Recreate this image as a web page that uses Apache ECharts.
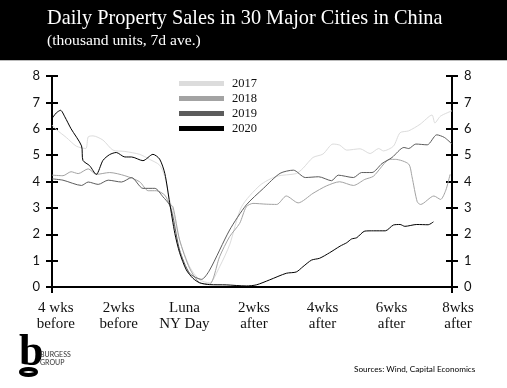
<!DOCTYPE html>
<html>
<head>
<meta charset="utf-8">
<script src="https://cdn.jsdelivr.net/npm/echarts@6/dist/echarts.min.js"></script>
<style>
  html, body { margin: 0; padding: 0; background: #fff; }
  #chart { width: 507px; height: 388px; }
</style>
</head>
<body>
<div id="chart"></div>
<script>
const days2017 = [-28, -27.1, -25, -22.9, -20.9, -20.4, -19.4, -17.3, -15.2, -12.7, -9.6, -7.5, -5.4, -4.3, -3.3, -2.6, -1.2, 0.9, 3, 5.1, 7.2, 9.3, 11.8, 15.7, 19.2, 23.3, 24.7, 26.8, 28.9, 31, 32.4, 33.9, 36.7, 38.8, 40.6, 41.6, 43.7, 45.1, 46.9, 49.3, 51.8, 52.4, 53.6, 56];
const sales2017 = [6.14, 5.97, 5.67, 5.34, 5.25, 5.69, 5.73, 5.57, 5.19, 5.14, 5.03, 4.84, 4.62, 4.18, 3.3, 2.9, 1.78, 0.77, 0.27, 0.16, 0.77, 1.6, 3.04, 3.86, 4.2, 4.3, 4.5, 4.91, 5.04, 5.42, 5.38, 5.19, 5.24, 5.06, 5.25, 5.16, 5.34, 5.85, 5.92, 6.17, 6.52, 6.22, 6.48, 6.68];

const days2018 = [-28, -25.7, -24, -22.5, -20.4, -18.7, -15.9, -12.7, -9.6, -7.8, -6.1, -4.3, -3.3, -2.6, -1.2, 0.9, 3, 5.1, 7.2, 9.3, 11.4, 12.8, 14.2, 17, 19.2, 21.2, 23.7, 26.8, 29.6, 32.4, 35.3, 37.7, 39.5, 43, 44.1, 46.9, 47.6, 48.7, 49.4, 52.2, 53.6, 54.7, 55.6];
const sales2018 = [4.24, 4.22, 4.37, 4.3, 4.48, 4.27, 4.34, 4.22, 3.99, 3.65, 3.65, 3.48, 3.14, 3.04, 1.78, 0.71, 0.16, 0.11, 1.15, 1.91, 2.41, 3.04, 3.17, 3.14, 3.13, 3.45, 3.19, 3.55, 3.83, 3.99, 3.85, 4.08, 4.2, 4.84, 4.84, 4.66, 4.18, 3.23, 3.13, 3.45, 3.32, 3.67, 4.27];

const days2019 = [-28, -25.7, -21.8, -20.4, -18.3, -16.2, -13.4, -11.3, -8.9, -6.4, -4.7, -3.3, -2.6, -1.2, 0.9, 3.4, 5.1, 9.3, 12.8, 16.4, 19.9, 22.7, 25.2, 28, 30.7, 32.1, 35.3, 37, 39.2, 41.3, 43.4, 45.9, 46.9, 48.4, 50.8, 52.8, 54.4, 56];
const sales2019 = [4.1, 4.05, 3.85, 3.98, 3.89, 4.05, 3.98, 4.15, 3.74, 3.74, 3.42, 3.11, 2.66, 1.4, 0.52, 0.29, 0.64, 2.16, 3.11, 3.74, 4.31, 4.43, 4.15, 4.18, 4.03, 4.24, 4.15, 4.34, 4.34, 4.68, 4.91, 5.29, 5.25, 5.42, 5.39, 5.77, 5.67, 5.42];

const days2020 = [-28, -27.1, -26.2, -25.3, -24, -21.8, -21.5, -20.1, -18.7, -17.3, -15.9, -14.5, -12.7, -11.3, -8.9, -6.8, -5.4, -4.3, -3.3, -2.2, -1.2, 0.2, 1.6, 3, 5.1, 8.6, 12.8, 14.9, 17.7, 21.2, 23.3, 24.7, 26.5, 28.2, 30.3, 32.5, 33.9, 34.9, 36, 37.7, 39.5, 42, 43.7, 45.1, 46.1, 48.6, 51, 52.1];
const sales2020 = [6.39, 6.6, 6.7, 6.45, 6.0, 5.35, 4.8, 4.6, 4.27, 4.8, 5.02, 5.1, 4.93, 4.93, 4.79, 5.03, 4.85, 4.3, 3.2, 2.03, 1.3, 0.65, 0.33, 0.16, 0.09, 0.08, 0.04, 0.08, 0.27, 0.52, 0.57, 0.77, 1.02, 1.09, 1.3, 1.55, 1.68, 1.82, 1.87, 2.12, 2.13, 2.13, 2.35, 2.37, 2.3, 2.37, 2.36, 2.47];

const seriesNames = ["2017", "2018", "2019", "2020"];
const seriesColors = ["#dcdcdc", "#a3a3a3", "#5c5c5c", "#000000"];
const tickLabels = ["4 wks\nbefore", "2wks\nbefore", "Luna\nNY Day", "2wks\nafter", "4wks\nafter", "6wks\nafter", "8wks\nafter"];
// the labels in the picture sit a little off the two-week marks, so they get their own spots
const tickLabelDays = [-27.2, -14, -0.2, 14.4, 28.8, 43.3, 56];
const axisEndDays = [-28, 56];
const yTicks = [0, 1, 2, 3, 4, 5, 6, 7, 8];

const SERIF = '"Liberation Serif", serif';
const SANS = 'Lato, "Open Sans", sans-serif';

function zip(days, values) {
  return days.map((d, i) => [d, values[i]]);
}

const chart = echarts.init(document.getElementById("chart"), null, { renderer: "canvas" });

const allDays = [days2017, days2018, days2019, days2020];
const allSales = [sales2017, sales2018, sales2019, sales2020];

const yAxisBase = {
  type: "value",
  min: 0,
  max: 8,
  interval: 1,
  splitLine: { show: false },
  axisLine: { show: true, onZero: false, lineStyle: { color: "#000", width: 2 } },
  axisTick: { show: true, length: 6, lineStyle: { color: "#000", width: 2 } },
};
const yLabelStyle = { color: "#111", fontFamily: SANS, fontSize: 13, margin: 12, customValues: yTicks };

const option = {
  animation: false,
  backgroundColor: "#fff",
  grid: { left: 52, right: 55, top: 76, height: 211, containLabel: false },
  legend: {
    data: seriesNames,
    orient: "vertical",
    left: 179,
    top: 77,
    padding: 0,
    itemWidth: 45,
    itemHeight: 5,
    itemGap: 2,
    icon: "rect",
    textStyle: { fontFamily: SERIF, fontSize: 12.5, color: "#111", padding: [0, 0, 0, 3] },
  },
  xAxis: {
    type: "value",
    min: -28,
    max: 56,
    splitLine: { show: false },
    axisLine: { show: true, onZero: false, lineStyle: { color: "#000", width: 2 } },
    axisTick: { show: true, customValues: axisEndDays, length: 6, lineStyle: { color: "#000", width: 2 } },
    axisLabel: {
      customValues: tickLabelDays,
      formatter: (v) => {
        const text = tickLabels[tickLabelDays.indexOf(v)];
        // last label hangs past the right axis in the picture
        if (v === 56) return text.split("\n").map((t) => "{shift|" + t + "}").join("\n");
        return text;
      },
      rich: { shift: { padding: [0, 0, 0, 12], fontFamily: SERIF, fontSize: 15, lineHeight: 16, color: "#111" } },
      fontFamily: SERIF,
      fontSize: 15,
      lineHeight: 16,
      color: "#111",
      margin: 13,
      hideOverlap: false,
      showMinLabel: true,
      showMaxLabel: true,
    },
  },
  // two axes on each side, ticks in and out, so the ticks cross the line
  yAxis: [
    { ...yAxisBase, position: "left", axisLabel: yLabelStyle },
    { ...yAxisBase, position: "left", axisTick: { ...yAxisBase.axisTick, inside: true }, axisLabel: { show: false } },
    { ...yAxisBase, position: "right", axisLabel: yLabelStyle },
    { ...yAxisBase, position: "right", axisTick: { ...yAxisBase.axisTick, inside: true }, axisLabel: { show: false } },
  ],
  series: seriesNames.map((name, i) => ({
    name,
    type: "line",
    data: zip(allDays[i], allSales[i]),
    showSymbol: false,
    smooth: 0.25,
    z: 2 + i,
    lineStyle: { color: seriesColors[i], width: 1 },
    itemStyle: { color: seriesColors[i] },
  })),
  graphic: [
    { type: "rect", z: 0, shape: { x: 0, y: 0, width: 507, height: 60 }, style: { fill: "#000" } },
    { type: "rect", z: 0, shape: { x: 0, y: 60, width: 507, height: 1 }, style: { fill: "#bbb" } },
    { type: "text", x: 47, y: 9, style: { text: "Daily Property Sales in 30 Major Cities in China", fill: "#fff", font: '500 20.3px ' + SERIF } },
    { type: "text", x: 47, y: 33, style: { text: "(thousand units, 7d ave.)", fill: "#fff", font: '15.6px ' + SERIF } },
    // logo
    { type: "text", x: 19, y: 332, style: { text: "b", fill: "#000", font: 'bold 44px ' + SERIF } },
    { type: "ellipse", shape: { cx: 28.5, cy: 372, rx: 7.5, ry: 3 }, style: { fill: "none", stroke: "#000", lineWidth: 4 } },
    { type: "text", x: 40, y: 351, style: { text: "BURGESS\nGROUP", fill: "#333", font: '7px ' + SANS, lineHeight: 8 } },
    { type: "text", x: 354, y: 365, style: { text: "Sources: Wind, Capital Economics", fill: "#000", font: '8.2px ' + SANS } },
  ],
};

chart.setOption(option);
</script>
</body>
</html>
